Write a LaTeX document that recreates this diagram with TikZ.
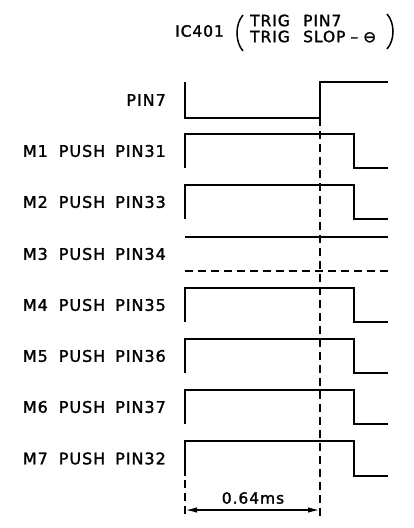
\documentclass[tikz,border=0pt]{standalone}
\usepackage{fontspec}
\setmainfont{DejaVu Sans}[LetterSpace=6,FakeBold=1.6]
\usetikzlibrary{arrows.meta}
\newcommand{\lbl}[3]{#1\hspace{11pt}#2\hspace{10pt}#3}
\begin{document}
\begin{tikzpicture}[x=1pt,y=-1pt,
  wave/.style={line width=1.7pt, line join=miter},
  dashline/.style={line width=1.6pt, dash pattern=on 8pt off 5pt},
  lab/.style={anchor=east, inner sep=0pt, font=\fontsize{16}{18}\selectfont},
  ttl/.style={anchor=west, inner sep=0pt, font=\fontsize{15.5}{17}\selectfont}]
\useasboundingbox (0,0) rectangle (413,528);
% title
\node[ttl] (ic) at (175,31) {IC401};
\node[ttl] (t1) at (250,20.5) {TRIG};
\node[ttl] (p1) at (303,20.5) {PIN7};
\node[ttl] (t2) at (250,36.5) {TRIG};
\node[ttl] (s2) at (303,36.5) {SLOP\hspace{5pt}–\hspace{5pt}⊖};
\draw[line width=1.5pt] (243,15) .. controls (235,24) and (235,42) .. (243,51);
\draw[line width=1.5pt] (387,14) .. controls (395,23) and (395,40) .. (387,49);
% PIN7
\node[lab] (pin7) at (166,100) {PIN7};
\draw[wave] (185,82) -- (185,118) -- (320,118) -- (320,82) -- (388,82);
% M waves
\foreach \n/\a/\b/\hi/\lo in {m1/M1/PIN31/134/168, m2/M2/PIN33/185/219,
   m4/M4/PIN35/288/322, m5/M5/PIN36/339/373, m6/M6/PIN37/390/424, m7/M7/PIN32/441/476}{
  \node[lab] (\n) at (166,{(\hi+\lo)/2}) {\lbl{\a}{PUSH}{\b}};
  \draw[wave] (185,\lo) -- (185,\hi) -- (354,\hi) -- (354,\lo) -- (388,\lo);
}
% M3
\node[lab] (m3) at (166,254) {\lbl{M3}{PUSH}{PIN34}};
\draw[wave] (185,237) -- (388,237);
\draw[dashline] (185,271) -- (388,271);
% timing markers
\coordinate (trig) at (320,118);
\coordinate (dr) at (320,510);
\coordinate (dl) at (185,510);
\draw[dashline] (trig) -- (320,516);
\draw[dashline] (185,480) -- (185,516);
\draw[line width=1.6pt, {Latex[length=12pt,width=5.5pt]}-{Latex[length=12pt,width=5.5pt]}] (dl) -- (dr);
\node[inner sep=0pt, font=\fontsize{15.5}{17}\selectfont] (dim) at (253,498) {0.64ms};
\end{tikzpicture}
\end{document}
